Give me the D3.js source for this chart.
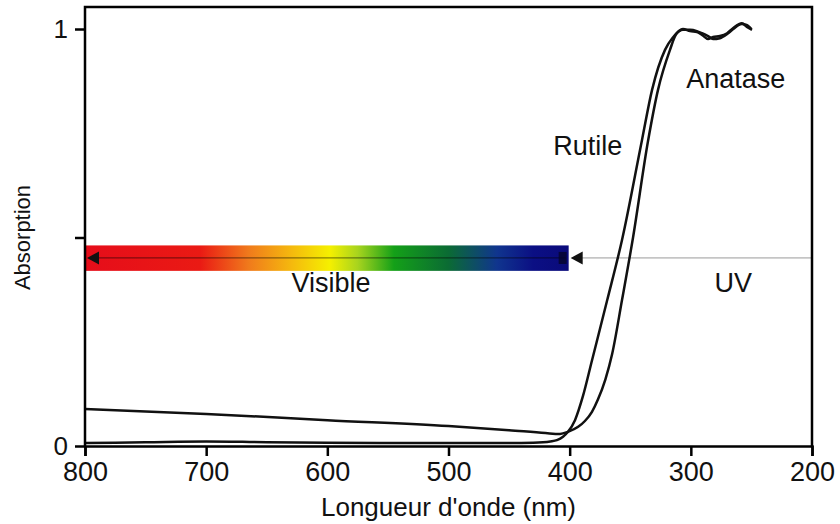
<!DOCTYPE html>
<html>
<head>
<meta charset="utf-8">
<script src="https://cdn.jsdelivr.net/npm/d3@7"></script>
<style>
  body { margin: 0; background: #fff; }
  svg { font-family: "Liberation Sans", Arial, sans-serif; }
</style>
</head>
<body>
<div class="chart"></div>
<script>
// Data ============================================================ //

// wavelength (nm) ticks and labels
var xTicks = [800, 700, 600, 500, 400, 300, 200];
var yTicks = [0, 0.5, 1];
var yTickLabels = ["0", "", "1"];

// Rutile absorption curve (wavelength, absorption)
var rutileWl = [800, 750, 700, 650, 600, 550, 500, 450, 430, 416, 410.5, 405.5, 401.4, 395.6, 389, 381.6,
  369, 356.8, 340.3, 332, 321.3, 314.7, 306.5, 300.7, 295, 290.8, 285.8, 281.7, 276, 270, 265.2, 257.8, 253.7, 249.5];
var rutileAbs = [0.007, 0.009, 0.011, 0.009, 0.008, 0.007, 0.007, 0.007, 0.008, 0.011, 0.014, 0.022, 0.034, 0.062, 0.12, 0.205,
  0.35, 0.494, 0.734, 0.854, 0.95, 0.98, 1.0, 0.995, 0.993, 0.986, 0.976, 0.981, 0.983, 0.99, 1.002, 1.014, 1.005, 0.998];

// Anatase absorption curve
var anataseWl = [800, 700, 600, 500, 450, 420, 408, 401.4, 393, 387.4, 381.6, 376.6, 370.5, 365, 356.8, 347.7, 335.4,
  327.1, 317.2, 312, 306.5, 300.7, 295, 290.8, 285.8, 281.7, 276, 270, 265, 258, 254, 250];
var anataseAbs = [0.089, 0.077, 0.062, 0.048, 0.038, 0.031, 0.029, 0.034, 0.046, 0.06, 0.082, 0.112, 0.16, 0.22, 0.35, 0.5, 0.73,
  0.854, 0.95, 0.988, 0.998, 0.998, 0.995, 0.99, 0.983, 0.976, 0.978, 0.988, 1.0, 1.012, 1.01, 1.0];

// visible spectrum colour stops (wavelength, colour)
var spectrumWl = [800, 705, 665, 630, 598, 575, 545, 500, 460, 430, 400];
var spectrumColors = ["#e60d1a", "#ea1a14", "#f07a1c", "#f5b80e", "#f5f000", "#a8d41e", "#14a018", "#0b6b34", "#10358e", "#0b0f84", "#0a0a7a"];

// bands: visible range and its vertical band
var visibleRange = [800, 400];
var bandAbs = [0.42, 0.481];
var arrowAbs = 0.451;

// Drawing ========================================================= //

var width = 840, height = 524;
var margin = { top: 7, right: 28, bottom: 78, left: 85 };

var svg = d3.select(".chart")
  .append("svg")
  .attr("width", width)
  .attr("height", height);

var x = d3.scaleLinear()
  .domain([800, 200])
  .range([margin.left, width - margin.right]);

var y = d3.scaleLinear()
  .domain([0, 1])
  .range([height - margin.bottom, 29]);

var yTop = margin.top;

// spectrum gradient
var defs = svg.append("defs");
var grad = defs.append("linearGradient")
  .attr("id", "spectrum")
  .attr("gradientUnits", "userSpaceOnUse")
  .attr("x1", x(visibleRange[0]))
  .attr("x2", x(visibleRange[1]))
  .attr("y1", 0).attr("y2", 0);
grad.selectAll("stop")
  .data(spectrumWl)
  .enter()
  .append("stop")
  .attr("offset", function (d) {
    return (x(d) - x(visibleRange[0])) / (x(visibleRange[1]) - x(visibleRange[0]));
  })
  .attr("stop-color", function (d, i) { return spectrumColors[i]; });

svg.append("rect")
  .attr("x", x(visibleRange[0]))
  .attr("y", y(bandAbs[1]))
  .attr("width", x(visibleRange[1]) - x(visibleRange[0]) - 1)
  .attr("height", y(bandAbs[0]) - y(bandAbs[1]))
  .attr("fill", "url(#spectrum)");

// arrow line through the band, and the thin grey line in the UV part
svg.append("line")
  .attr("x1", x(visibleRange[0]) + 4)
  .attr("x2", x(visibleRange[1]) - 4)
  .attr("y1", y(arrowAbs)).attr("y2", y(arrowAbs))
  .attr("stroke", "#000")
  .attr("stroke-opacity", 0.45)
  .attr("stroke-width", 1.2);

svg.append("line")
  .attr("x1", x(visibleRange[1]) + 12)
  .attr("x2", x(200))
  .attr("y1", y(arrowAbs)).attr("y2", y(arrowAbs))
  .attr("stroke", "#9a9a9a")
  .attr("stroke-width", 1);

var arrowY = y(arrowAbs);
function arrowHead(tipX) {
  return tipX + "," + arrowY + " " + (tipX + 12) + "," + (arrowY - 6.5) + " " + (tipX + 12) + "," + (arrowY + 6.5);
}
svg.append("polygon")
  .attr("points", arrowHead(x(visibleRange[0]) + 2))
  .attr("fill", "#111");
svg.append("polygon")
  .attr("points", arrowHead(x(visibleRange[1]) + 1))
  .attr("fill", "#111");
// dark end blob in the blue end of the bar
svg.append("rect")
  .attr("x", x(visibleRange[1]) - 11)
  .attr("y", arrowY - 6)
  .attr("width", 8)
  .attr("height", 12)
  .attr("fill", "#05052a")
  .attr("opacity", 0.8);

// curves
var line = d3.line()
  .x(function (d) { return x(d[0]); })
  .y(function (d) { return y(d[1]); })
  .curve(d3.curveMonotoneX);

var rutile = rutileWl.map(function (w, i) { return [w, rutileAbs[i]]; });
var anatase = anataseWl.map(function (w, i) { return [w, anataseAbs[i]]; });

[rutile, anatase].forEach(function (series) {
  svg.append("path")
    .datum(series)
    .attr("d", line)
    .attr("fill", "none")
    .attr("stroke", "#111")
    .attr("stroke-width", 2.5)
    .attr("stroke-linejoin", "round");
});

// frame
svg.append("path")
  .attr("d", "M" + x(800) + "," + y(0) + "V" + yTop + "H" + x(200) + "V" + y(0))
  .attr("fill", "none")
  .attr("stroke", "#000")
  .attr("stroke-width", 2.5);

// axes
var xAxis = svg.append("g")
  .attr("transform", "translate(0," + y(0) + ")")
  .call(d3.axisBottom(x).tickValues(xTicks).tickSize(10).tickPadding(6));
xAxis.select(".domain").attr("stroke-width", 2.5);
xAxis.selectAll(".tick line").attr("stroke-width", 2.5);
xAxis.selectAll("text")
  .attr("font-size", "27px")
  .attr("font-family", "Liberation Sans, Arial, sans-serif")
  .attr("fill", "#111");

var yAxis = svg.append("g")
  .attr("transform", "translate(" + x(800) + ",0)")
  .call(d3.axisLeft(y).tickValues(yTicks).tickSize(10).tickPadding(7)
    .tickFormat(function (d, i) { return yTickLabels[i]; }));
yAxis.select(".domain").remove();
yAxis.selectAll(".tick line").attr("stroke-width", 2.5);
yAxis.selectAll("text")
  .attr("font-size", "26px")
  .attr("font-family", "Liberation Sans, Arial, sans-serif")
  .attr("fill", "#111");

// titles
svg.append("text")
  .attr("x", (x(800) + x(200)) / 2)
  .attr("y", 516)
  .attr("text-anchor", "middle")
  .attr("font-size", "26px")
  .attr("fill", "#111")
  .text("Longueur d'onde (nm)");

svg.append("text")
  .attr("transform", "translate(30," + y(0.5) + ") rotate(-90)")
  .attr("text-anchor", "middle")
  .attr("font-size", "22px")
  .attr("fill", "#111")
  .text("Absorption");

// annotations
var notes = [
  { t: "Visible", wl: 597, v: 0.39 },
  { t: "UV", wl: 265, v: 0.39 },
  { t: "Rutile", wl: 385, v: 0.72 },
  { t: "Anatase", wl: 263, v: 0.88 }
];
svg.selectAll(".note")
  .data(notes)
  .enter()
  .append("text")
  .attr("class", "note")
  .attr("x", function (d) { return x(d.wl); })
  .attr("y", function (d) { return y(d.v); })
  .attr("text-anchor", "middle")
  .attr("dominant-baseline", "central")
  .attr("font-size", "27px")
  .attr("fill", "#111")
  .text(function (d) { return d.t; });
</script>
</body>
</html>
